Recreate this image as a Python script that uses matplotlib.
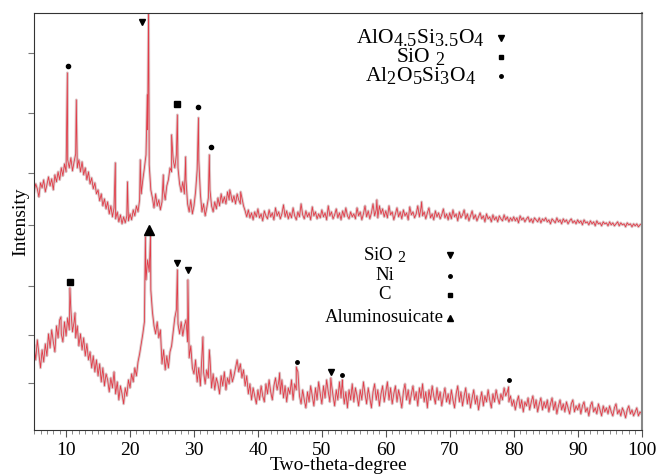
import numpy as np
import matplotlib as mpl
mpl.use('Agg')
import matplotlib.pyplot as plt
import matplotlib._mathtext as mathtext_core

plt.rcParams['font.family'] = 'Liberation Serif'
plt.rcParams['mathtext.fontset'] = 'custom'
plt.rcParams['mathtext.rm'] = 'Liberation Serif'
plt.rcParams['mathtext.it'] = 'Liberation Serif'
# larger subscripts for the phase formulas
mathtext_core.SHRINK_FACTOR = 0.85

# scan grid, 0.25 deg steps from 5 to 100
two_theta = np.arange(5.0, 100.001, 0.25)

# upper pattern (offset), background counts on the grid
upper_base = [
    238, 246, 241, 233, 247, 242, 250, 238, 245, 253, 244, 251, 240, 255, 248, 258, 250, 262, 254, 266,
    258, 270, 262, 272, 259, 268, 276, 262, 270, 258, 268, 255, 262, 250, 258, 246, 252, 241, 247, 236,
    240, 229, 236, 224, 231, 221, 228, 216, 224, 213, 222, 211, 218, 208, 215, 206, 213, 207, 214, 209,
    216, 210, 220, 214, 224, 218, 230, 236, 250, 262, 275, 300, 265, 240, 232, 222, 236, 224, 230, 220,
    228, 240, 230, 244, 250, 262, 258, 270, 262, 275, 262, 246, 238, 248, 236, 250, 226, 218, 230, 216,
    224, 238, 260, 270, 236, 218, 226, 214, 222, 232, 240, 224, 218, 228, 221, 232, 224, 236, 227, 233,
    226, 238, 230, 236, 228, 234, 226, 236, 230, 226, 232, 224, 219, 213, 220, 212, 217, 210, 218, 213,
    221, 212, 216, 209, 219, 214, 211, 220, 213, 217, 210, 222, 214, 218, 211, 216, 225, 213, 219, 211,
    217, 212, 222, 214, 210, 218, 213, 226, 215, 211, 219, 213, 217, 210, 223, 214, 218, 211, 216, 212,
    220, 213, 217, 210, 224, 214, 218, 211, 215, 221, 212, 217, 210, 219, 213, 222, 214, 211, 218, 213,
    216, 211, 222, 214, 218, 210, 216, 224, 213, 219, 211, 217, 226, 214, 220, 212, 224, 216, 221, 213,
    219, 212, 224, 215, 218, 210, 216, 222, 213, 218, 211, 220, 214, 217, 210, 223, 215, 218, 212, 216,
    224, 213, 222, 214, 218, 211, 217, 222, 212, 216, 210, 219, 213, 217, 211, 215, 221, 212, 216, 210,
    217, 211, 220, 213, 216, 209, 218, 212, 215, 220, 211, 216, 209, 214, 219, 211, 215, 209, 213, 217,
    211, 214, 208, 216, 211, 213, 208, 215, 210, 213, 208, 214, 211, 209, 215, 210, 213, 208, 212, 209,
    213, 209, 212, 207, 214, 210, 212, 208, 211, 213, 208, 211, 207, 212, 210, 208, 212, 207, 211, 209,
    212, 208, 210, 206, 211, 209, 207, 212, 208, 210, 206, 211, 208, 210, 206, 209, 211, 207, 209, 206,
    210, 207, 209, 205, 210, 207, 208, 205, 209, 206, 208, 204, 209, 206, 207, 204, 208, 206, 207, 204,
    208, 205, 207, 204, 206, 208, 204, 207, 205, 206, 203, 207, 205, 206, 203, 206, 204, 206, 203, 205,
    206,
]
upper_peak_x = [10.2, 11.6, 17.7, 19.6, 21.6, 22.7, 22.9, 25.2, 26.5, 27.4,
                28.7, 30.7, 32.4, 35.6, 37.3, 58.6, 65.6]
upper_peak_y = [357, 330, 267, 248, 270, 335, 425, 255, 295, 315,
                273, 312, 275, 240, 238, 230, 228]

# lower pattern
lower_base = [
    84, 70, 90, 76, 62, 80, 68, 86, 74, 96, 82, 100, 88, 78, 104, 92, 110, 96, 88, 108,
    94, 112, 100, 120, 98, 108, 92, 104, 84, 96, 80, 92, 74, 86, 70, 78, 62, 74, 58, 70,
    54, 66, 48, 62, 44, 56, 50, 38, 52, 42, 58, 36, 48, 30, 44, 36, 26, 42, 34, 50,
    42, 56, 48, 62, 54, 68, 76, 86, 96, 108, 150, 170, 158, 140, 118, 104, 96, 108, 92, 100,
    66, 80, 60, 74, 62, 78, 84, 98, 112, 120, 106, 96, 108, 94, 104, 110, 88, 72, 84, 62,
    56, 70, 48, 62, 44, 76, 58, 46, 60, 52, 72, 42, 56, 40, 52, 46, 36, 54, 44, 58,
    40, 52, 46, 60, 48, 54, 62, 70, 58, 66, 52, 60, 44, 54, 36, 46, 30, 42, 34, 26,
    40, 30, 44, 34, 28, 46, 36, 50, 38, 30, 44, 52, 40, 48, 36, 50, 32, 44, 28, 42,
    36, 50, 30, 46, 40, 58, 34, 26, 40, 30, 22, 38, 28, 44, 34, 24, 42, 30, 48, 36,
    26, 44, 32, 50, 38, 28, 46, 34, 24, 40, 30, 48, 32, 44, 26, 38, 22, 40, 30, 46,
    28, 42, 34, 24, 40, 30, 48, 36, 26, 42, 32, 22, 38, 46, 30, 40, 24, 36, 44, 28,
    38, 48, 30, 42, 26, 36, 44, 28, 40, 32, 22, 38, 46, 30, 40, 26, 36, 44, 30, 38,
    24, 42, 32, 46, 28, 38, 22, 40, 30, 44, 34, 26, 42, 30, 38, 24, 34, 42, 28, 36,
    26, 40, 30, 22, 36, 44, 28, 38, 24, 34, 42, 26, 36, 22, 32, 40, 26, 34, 20, 30,
    38, 24, 34, 28, 40, 30, 22, 36, 28, 40, 32, 26, 36, 30, 42, 34, 38, 28, 34, 24,
    30, 20, 28, 34, 22, 30, 18, 28, 24, 32, 20, 28, 34, 22, 30, 18, 26, 32, 20, 28,
    22, 30, 18, 26, 32, 20, 28, 16, 24, 30, 20, 26, 18, 28, 22, 16, 26, 30, 18, 24,
    20, 26, 16, 24, 28, 18, 22, 14, 24, 28, 18, 22, 16, 26, 20, 14, 24, 18, 22, 16,
    24, 18, 14, 22, 26, 16, 20, 14, 22, 18, 12, 20, 24, 16, 20, 14, 18, 22, 14, 18,
    16,
]
lower_peak_x = [9.2, 10.6, 11.4, 22.4, 23.2, 27.4, 29.05, 31.4, 32.4, 43.4,
                46.0, 51.4, 53.2, 79.2]
lower_peak_y = [113, 142, 117, 193, 195, 160, 150, 93, 80, 57,
                63, 52, 50, 43]

# phase markers above the reflections
upper_marks = [(10.3, 364, 'o', 3), (21.8, 408, 'v', 5), (27.3, 326, 's', 4),
               (30.7, 323, 'o', 3), (32.6, 283, 'o', 3)]
lower_marks = [(10.6, 148, 's', 4), (22.9, 200, '^', 7), (27.4, 167, 'v', 4.5),
               (29.0, 160, 'v', 4.5), (46.1, 68, 'o', 2.5), (51.4, 58, 'v', 4),
               (53.2, 55, 'o', 2.5), (79.2, 50, 'o', 2.5)]

upper_legend = ['AlO$_{4.5}$Si$_{3.5}$O$_4$', 'SiO $_2$', 'Al$_2$O$_5$Si$_3$O$_4$']
upper_legend_y = [392, 373, 354]
upper_legend_mk = [('v', 4), ('s', 3.5), ('o', 2.5)]
lower_legend = ['SiO $_2$', 'Ni', 'C', 'Aluminosuicate']
lower_legend_y = [175, 154, 135, 112]
lower_legend_mk = [('v', 4), ('o', 2.5), ('s', 3.5), ('^', 4)]

assert len(upper_base) == len(two_theta) and len(lower_base) == len(two_theta)


def merge(base, peak_x, peak_y):
    x = np.concatenate([two_theta, peak_x])
    y = np.concatenate([np.array(base, float), peak_y])
    order = np.argsort(x, kind='stable')
    return x[order], y[order]


fig = plt.figure(figsize=(6.56, 4.75), dpi=100)
ax = fig.add_axes([0.052, 0.095, 0.927, 0.878])

for base, pkx, pky in [(upper_base, upper_peak_x, upper_peak_y),
                       (lower_base, lower_peak_x, lower_peak_y)]:
    x, y = merge(base, pkx, pky)
    ax.plot(x, y, color='#c7a4a7', lw=2.0, alpha=0.6)
    ax.plot(x, y, color='#e23c48', lw=0.6)

for xm, ym, m, s in upper_marks + lower_marks:
    ax.plot(xm, ym, marker=m, color='black', ms=s, ls='none')

for txt, yy, (m, s) in zip(upper_legend, upper_legend_y, upper_legend_mk):
    ax.text(65.4, yy, txt, ha='center', va='center', fontsize=15.5)
    ax.plot(78.0, yy, marker=m, color='black', ms=s, ls='none')
for txt, yy, (m, s) in zip(lower_legend, lower_legend_y, lower_legend_mk):
    ax.text(59.8, yy, txt, ha='center', va='center', fontsize=13.5)
    ax.plot(70.1, yy, marker=m, color='black', ms=s, ls='none')

ax.set_xlim(5, 100.1)
ax.set_ylim(0, 417)
ax.set_xticks(np.arange(10, 101, 10))
ax.set_xticks(np.arange(5, 101, 1), minor=True)
ax.set_yticks([47, 95, 144, 205, 257, 317, 377])
ax.set_yticklabels([])
ax.tick_params(axis='x', which='major', length=5, labelsize=14, color='#555')
ax.tick_params(axis='x', which='minor', length=3, color='#777')
ax.tick_params(axis='y', length=4, color='#777')
for side in ['left', 'bottom', 'top']:
    ax.spines[side].set_color('#333')
ax.spines['right'].set_color('#888')
ax.spines['right'].set_linewidth(1.5)

ax.set_xlabel('Two-theta-degree', fontsize=14, labelpad=-1)
ax.set_ylabel('Intensity', fontsize=14, labelpad=-4)

fig.savefig('out.png', dpi=100)
